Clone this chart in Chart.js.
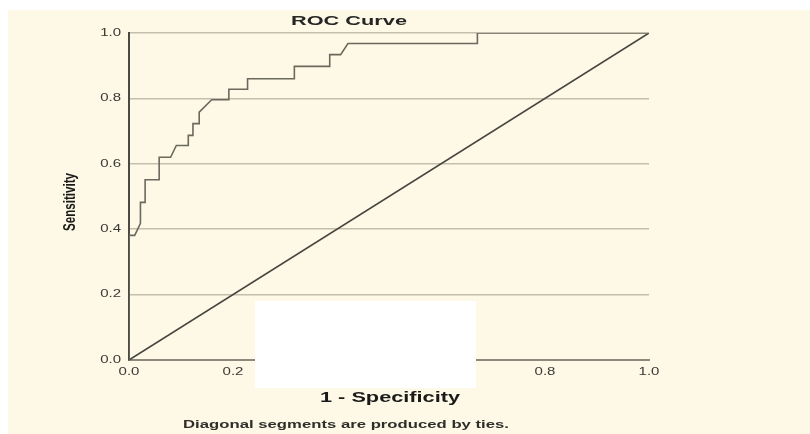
<!DOCTYPE html>
<html>
<head>
<meta charset="utf-8">
<script src="https://cdn.jsdelivr.net/npm/chart.js@4.4.1/dist/chart.umd.min.js"></script>
<style>
  html, body { margin: 0; padding: 0; background: #fff; }
  canvas { display: block; }
</style>
</head>
<body>
<canvas id="roc" width="810" height="434"></canvas>
<script>
// ROC curve vertices (1 - specificity, sensitivity)
const fpr = [0, 0, 0.011, 0.022, 0.022, 0.031, 0.031, 0.058, 0.058, 0.080, 0.091, 0.114, 0.114,
             0.123, 0.123, 0.135, 0.135, 0.159, 0.192, 0.192, 0.228, 0.228, 0.318, 0.318,
             0.386, 0.386, 0.407, 0.421, 0.670, 0.670, 1]
const tpr = [0, 0.381, 0.381, 0.418, 0.482, 0.482, 0.551, 0.551, 0.620, 0.620, 0.656, 0.656, 0.687,
             0.687, 0.723, 0.723, 0.758, 0.796, 0.796, 0.828, 0.828, 0.860, 0.860, 0.898,
             0.898, 0.934, 0.934, 0.968, 0.968, 1, 1]

// reference line
const refX = [0, 1]
const refY = [0, 1]

const tickValues = [0, 0.2, 0.4, 0.6, 0.8, 1.0]
const tickLabels = ["0.0", "0.2", "0.4", "0.6", "0.8", "1.0"]

const titleText = "ROC Curve"
const xTitle = "1 - Specificity"
const yTitle = "Sensitivity"
const footnote = "Diagonal segments are produced by ties."

const FONT = "Arial, 'Liberation Sans', sans-serif"

// text stretched to a given width (the source image is widened)
function fitText(ctx, text, cx, cy, font, w, sy, rot, color) {
  ctx.save()
  ctx.font = font
  ctx.fillStyle = color
  const m = ctx.measureText(text).width
  ctx.translate(cx, cy)
  if (rot) ctx.rotate(rot)
  ctx.scale(w / m, sy)
  ctx.textAlign = "center"
  ctx.textBaseline = "middle"
  ctx.fillText(text, 0, 0)
  ctx.restore()
}

const decor = {
  id: "decor",
  beforeDraw(chart) {
    const ctx = chart.ctx
    ctx.save()
    ctx.fillStyle = "#ffffff"
    ctx.fillRect(0, 0, chart.width, chart.height)
    ctx.fillStyle = "#fdf9e6"
    ctx.fillRect(8, 10, chart.width - 8, chart.height - 10)
    ctx.restore()
  },
  afterDraw(chart) {
    const ctx = chart.ctx
    const xs = chart.scales.x, ys = chart.scales.y

    // tick labels
    ctx.save()
    ctx.font = "10px " + FONT
    ctx.fillStyle = "#3a3a35"
    ctx.textBaseline = "middle"
    tickValues.forEach((v, i) => {
      const py = ys.getPixelForValue(v)
      ctx.save()
      ctx.translate(chart.chartArea.left - 8, py)
      ctx.scale(1.5, 1)
      ctx.textAlign = "right"
      ctx.fillText(tickLabels[i], 0, 0)
      ctx.restore()

      const px = xs.getPixelForValue(v)
      ctx.save()
      ctx.translate(px, chart.chartArea.bottom + 12)
      ctx.scale(1.5, 1)
      ctx.textAlign = "center"
      ctx.fillText(tickLabels[i], 0, 0)
      ctx.restore()
    })
    ctx.restore()

    fitText(ctx, titleText, 349, 21, "bold 13px " + FONT, 116, 1.0, 0, "#262624")
    fitText(ctx, xTitle, 390, 398, "bold 14px " + FONT, 140, 1.05, 0, "#1a1a18")
    fitText(ctx, yTitle, 70, 202, "bold 12px " + FONT, 58, 1.45, -Math.PI / 2, "#1a1a18")
    fitText(ctx, footnote, 346, 425, "bold 10px " + FONT, 326, 1.1, 0, "#2e2e2b")

    // blank patch over the lower middle of the picture
    ctx.save()
    ctx.fillStyle = "#ffffff"
    ctx.fillRect(255, 301, 221, 87)
    ctx.restore()
  }
}

new Chart(document.getElementById("roc").getContext("2d"), {
  type: "line",
  data: {
    datasets: [
      { label: "ROC", data: fpr.map((x, i) => ({ x, y: tpr[i] })),
        borderColor: "#6b685e", borderWidth: 1.6, pointRadius: 0, tension: 0, fill: false, order: 1 },
      { label: "Reference", data: refX.map((x, i) => ({ x, y: refY[i] })),
        borderColor: "#45453e", borderWidth: 1.6, pointRadius: 0, tension: 0, fill: false, order: 2 }
    ]
  },
  options: {
    responsive: false,
    animation: false,
    devicePixelRatio: 1,
    layout: { padding: { left: 129, right: 161, top: 33, bottom: 74 } },
    plugins: { legend: { display: false }, tooltip: { enabled: false } },
    scales: {
      x: {
        type: "linear", min: 0, max: 1,
        ticks: { display: false, stepSize: 0.2 },
        grid: { display: false, drawTicks: false },
        border: { display: true, color: "#8c897c", width: 2 },
        afterFit(s) { s.height = 0 }
      },
      y: {
        type: "linear", min: 0, max: 1,
        ticks: { display: false, stepSize: 0.2 },
        grid: { color: "#c4bfac", lineWidth: 1.5, drawTicks: false },
        border: { display: true, color: "#4a4943", width: 2 },
        afterFit(s) { s.width = 0 }
      }
    }
  },
  plugins: [decor]
})
</script>
</body>
</html>
